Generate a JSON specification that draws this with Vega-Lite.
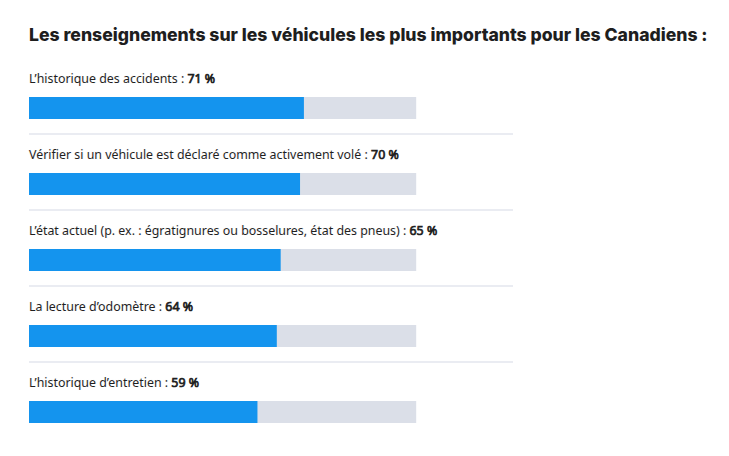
{
  "$schema": "https://vega.github.io/schema/vega-lite/v6.json",
  "autosize": "none",
  "width": 484,
  "height": 380,
  "padding": {"left": 29, "top": 58, "right": 216, "bottom": 18},
  "background": "white",
  "title": {
    "text": "Les renseignements sur les véhicules les plus importants pour les Canadiens :",
    "anchor": "start",
    "frame": "group",
    "font": "Inter",
    "fontSize": 17.6,
    "fontWeight": 800,
    "color": "#1e1e1e",
    "offset": 13
  },
  "config": {"view": {"stroke": null}},
  "data": {
    "values": [
      {"label": "L’historique des accidents", "value": 71},
      {"label": "Vérifier si un véhicule est déclaré comme activement volé", "value": 70},
      {"label": "L’état actuel (p. ex. : égratignures ou bosselures, état des pneus)", "value": 65},
      {"label": "La lecture d’odomètre", "value": 64},
      {"label": "L’historique d’entretien", "value": 59}
    ]
  },
  "transform": [
    {"calculate": "datum.label + ' : '", "as": "prefix"},
    {"calculate": "datum.label + ' : ' + datum.value + ' %'", "as": "full"}
  ],
  "encoding": {
    "y": {"field": "label", "type": "nominal", "sort": null, "axis": null,
          "scale": {"paddingInner": 0, "paddingOuter": 0}}
  },
  "layer": [
    {
      "transform": [{"filter": "datum.value != 59"}],
      "mark": {"type": "rule", "color": "#e3e6ee", "strokeWidth": 1.5, "yOffset": 38},
      "encoding": {
        "x": {"datum": 0, "type": "quantitative", "scale": {"domain": [0, 125], "nice": false}, "axis": null},
        "x2": {"datum": 125}
      }
    },
    {
      "mark": {"type": "bar", "height": 22, "yOffset": 12, "color": "#dbdfe8"},
      "encoding": {
        "x": {"datum": 100, "type": "quantitative"},
        "x2": {"datum": 0}
      }
    },
    {
      "mark": {"type": "bar", "height": 22, "yOffset": 12, "color": "#1494ee"},
      "encoding": {
        "x": {"field": "value", "type": "quantitative"},
        "x2": {"datum": 0}
      }
    },
    {
      "mark": {"type": "text", "align": "left", "baseline": "middle", "yOffset": -17,
               "font": "Noto Sans", "fontSize": 12.4, "fill": "#1f1f1f", "stroke": "#1f1f1f", "strokeWidth": 0.7},
      "encoding": {"x": {"datum": 0, "type": "quantitative"}, "text": {"field": "full", "type": "nominal"}}
    },
    {
      "mark": {"type": "text", "align": "left", "baseline": "middle", "yOffset": -17,
               "font": "Noto Sans", "fontSize": 12.4, "fill": "white", "stroke": "white", "strokeWidth": 2},
      "encoding": {"x": {"datum": 0, "type": "quantitative"}, "text": {"field": "prefix", "type": "nominal"}}
    },
    {
      "mark": {"type": "text", "align": "left", "baseline": "middle", "yOffset": -17,
               "font": "Noto Sans", "fontSize": 12.4, "fill": "#1f1f1f"},
      "encoding": {"x": {"datum": 0, "type": "quantitative"}, "text": {"field": "prefix", "type": "nominal"}}
    }
  ]
}
